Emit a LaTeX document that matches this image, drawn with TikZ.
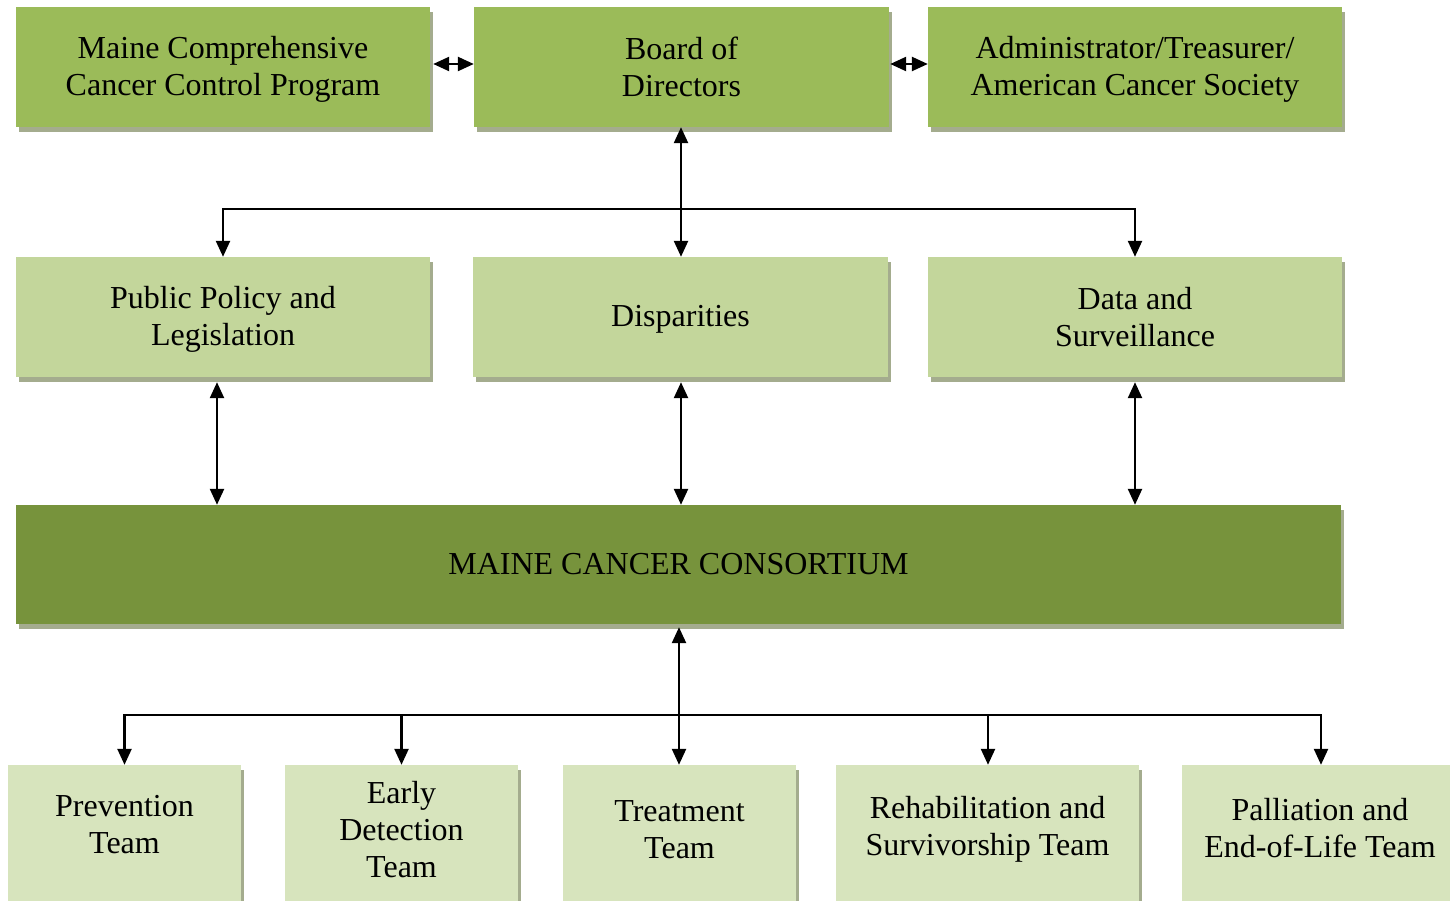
\documentclass[tikz,border=0pt]{standalone}
\usepackage{fontspec}
\setmainfont{Liberation Serif}
\usetikzlibrary{arrows.meta,shadows}
\definecolor{topg}{HTML}{9BBB59}
\definecolor{midg}{HTML}{C3D69B}
\definecolor{cong}{HTML}{77933C}
\definecolor{botg}{HTML}{D7E4BD}
\definecolor{shad}{HTML}{A4AC8E}
\begin{document}
\begin{tikzpicture}[x=1pt,y=-1pt,
  txt/.style={inner sep=0pt, align=center, font=\fontsize{32}{37}\selectfont},
  base/.style={txt, draw=none,
    general shadow={fill=shad, shadow xshift=3pt, shadow yshift=-5pt}},
  topbox/.style={base, fill=topg, minimum width=414pt, minimum height=120pt},
  midbox/.style={base, fill=midg, minimum width=414pt, minimum height=120pt},
  conbox/.style={base, fill=cong, minimum width=1325pt, minimum height=119pt},
  botbox/.style={base, fill=botg, minimum height=136pt},
  ln/.style={line width=2.4pt, line join=miter},
  tip/.tip={Triangle[length=16pt,width=14pt]},
  dbl/.style={ln, tip-tip},
  one/.style={ln, -tip}]
\useasboundingbox (0,0) rectangle (1450,901);

% top row
\node[topbox,
  label={[txt, name=at, yshift=-2pt]center:Maine Comprehensive\\Cancer Control Program}] (a) at (223,67) {};
\node[topbox, minimum width=415pt] (b) at (681.5,67) {Board of\\Directors};
\node[topbox,
  label={[txt, name=ct, yshift=-2pt]center:Administrator/Treasurer/\\American Cancer Society}] (c) at (1135,67) {};

% middle row
\node[midbox,
  label={[txt, name=dt, yshift=-2pt]center:Public Policy and\\Legislation}] (d) at (223,317) {};
\node[midbox, minimum width=415pt,
  label={[txt, name=et, yshift=-2.5pt]center:Disparities}] (e) at (680.5,317) {};
\node[midbox] (f) at (1135,317) {Data and\\Surveillance};

% consortium
\node[conbox] (con) at (678.5,564.5) {MAINE CANCER CONSORTIUM};

% bottom row
\node[botbox, minimum width=233pt,
  label={[txt, name=gt, yshift=8pt]center:Prevention\\Team}] (g) at (124.5,833) {};
\node[botbox, minimum width=233pt,
  label={[txt, name=ht, yshift=3pt]center:Early\\Detection\\Team}] (h) at (401.5,833) {};
\node[botbox, minimum width=233pt,
  label={[txt, name=it, yshift=3.5pt]center:Treatment\\Team}] (i) at (679.5,833) {};
\node[botbox, minimum width=303pt,
  label={[txt, name=jt2, yshift=3.5pt]center:Rehabilitation and\\Survivorship Team}] (j) at (987.5,833) {};
\node[botbox, minimum width=276pt,
  label={[txt, name=kt, yshift=5pt]center:Palliation and\\End-of-Life Team}] (k) at (1320,833) {};

% top links
\draw[dbl] ([xshift=3pt,yshift=3pt]a.east) -- ([yshift=3pt]b.west);
\draw[dbl] ([xshift=1pt,yshift=3pt]b.east) -- ([yshift=3pt]c.west);

% board to committees
\coordinate (jt) at (681,209);
\draw[dbl] (b.south -| jt) -- (e.north -| jt);
\draw[one] (jt) -| (d.north);
\draw[one] (jt) -| (f.north);

% committees to consortium
\draw[dbl] ([xshift=-6pt,yshift=-5pt]d.south) -- ([xshift=-6pt]d.south |- con.north);
\draw[dbl] ([xshift=0.5pt,yshift=-5pt]e.south) -- ([xshift=0.5pt]e.south |- con.north);
\draw[dbl] ([yshift=-5pt]f.south) -- (f.south |- con.north);

% consortium to teams
\coordinate (jb) at (679,715);
\draw[dbl] ([yshift=-3pt]con.south -| jb) -- (i.north -| jb);
\draw[one] (jb) -| (g.north);
\draw[one] (jb) -| (h.north);
\draw[one] (jb) -| ([xshift=0.5pt]j.north);
\draw[one] (jb) -| ([xshift=1pt]k.north);
\end{tikzpicture}
\end{document}
